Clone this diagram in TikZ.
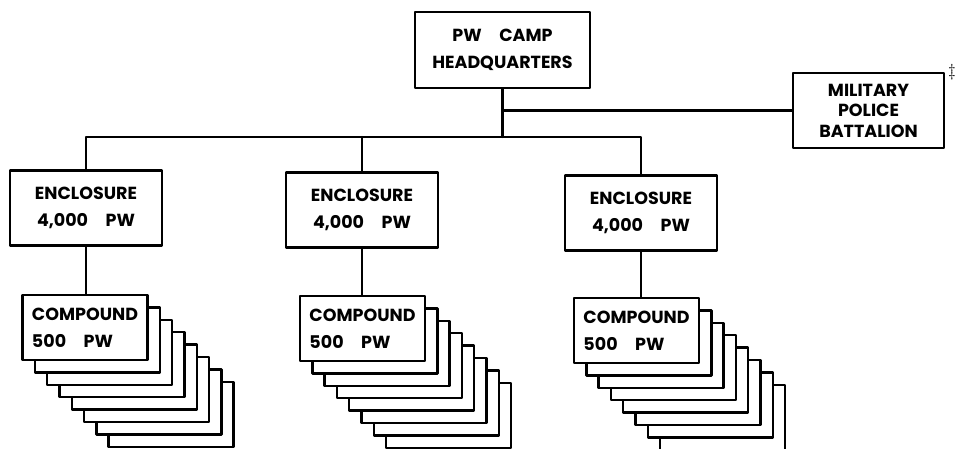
\documentclass[tikz,border=0pt]{standalone}
\usepackage{fontspec}
\setmainfont{Poppins}
\tikzset{
  every picture/.style={line join=round, line cap=round},
  unit/.style={draw, line width=2.4pt, fill=white, align=center, inner sep=0pt,
    font=\bfseries\fontsize{17.5}{27}\selectfont},
  link/.style={line width=2.2pt},
}
\begin{document}
\begin{tikzpicture}[x=1pt,y=-1pt]
\useasboundingbox (0,0) rectangle (958,449);
\clip (0,0) rectangle (958,449);
\node[unit, minimum width=175pt, minimum height=76pt] (hq) at (502.5,50) {PW\quad CAMP\\HEADQUARTERS};
\node[unit, minimum width=151pt, minimum height=75pt, font=\bfseries\fontsize{17.5}{20.5}\selectfont] (mp) at (868.5,110.5) {MILITARY\\POLICE\\BATTALION};
\node[font=\LARGE, inner sep=0pt] (mark) at (952,72) {$\ddagger$};
\foreach \n/\x/\y in {1/86/208, 2/362/210, 3/641/213}
  \node[unit, minimum width=152pt, minimum height=75pt] (enc\n) at (\x,\y) {ENCLOSURE\\4,000\quad PW};
\foreach \n/\x/\y in {1/85/327.5, 2/362.5/328.5, 3/636.5/330.5}{
  \foreach \k in {7,...,1}
    \node[unit, minimum width=125pt, minimum height=65pt] (cmp\n-\k) at ({\x+12.3*\k},{\y+12.4*\k}) {};
  \node[unit, align=left, minimum width=125pt, minimum height=65pt] (cmp\n) at (\x,\y) {COMPOUND\\500\quad PW};
}
\coordinate (bus) at (502,137);
\draw[link] (hq) -- (hq |- bus);
\draw[link] (hq |- mp) -- (mp);
\draw[link] (enc1) |- (bus) -| (enc3);
\draw[link] (enc2) -- (enc2 |- bus);
\foreach \n in {1,2,3}
  \draw[link] (enc\n.south) -- (enc\n.south |- cmp\n.north);
\end{tikzpicture}
\end{document}
